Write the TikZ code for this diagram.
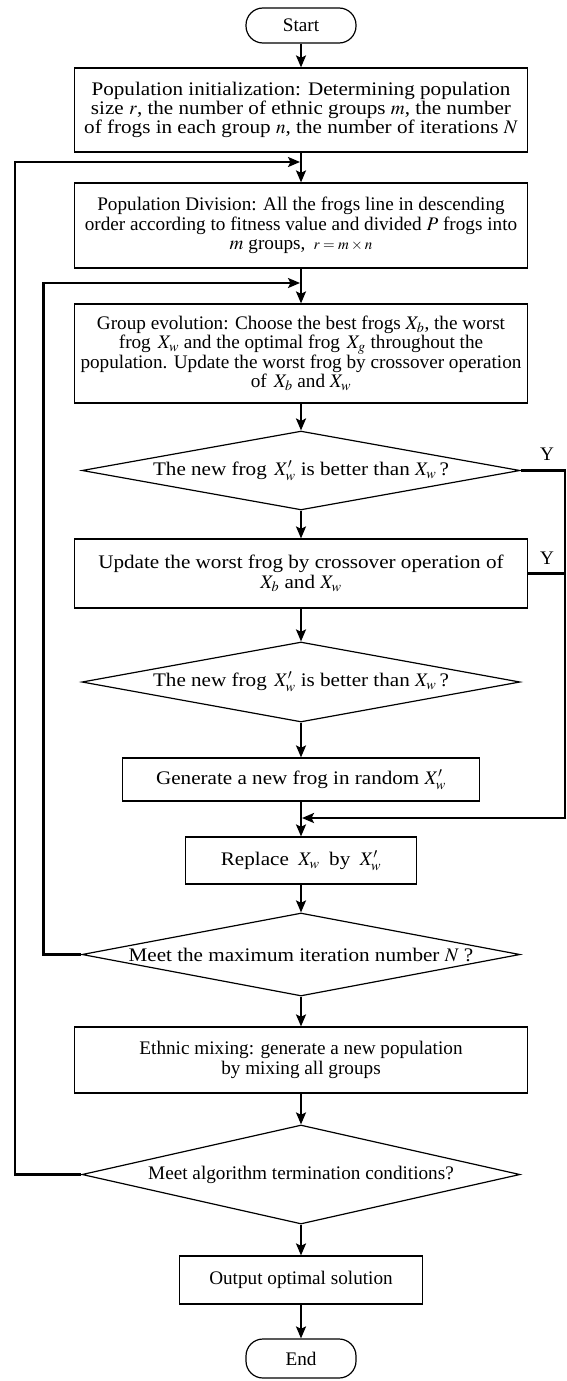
\documentclass[tikz,border=0pt]{standalone}
\usepackage{mathptmx}
\usepackage[no-math]{fontspec}
\setmainfont{Liberation Serif}
\newfontfamily\widefont{Liberation Serif}[FakeStretch=1.1]
\usetikzlibrary{arrows.meta,shapes.geometric}
\begin{document}
\begin{tikzpicture}[x=1pt,y=1pt,
  every node/.style={font=\fontsize{19.2}{19.3}\selectfont},
  wide/.style={font=\fontsize{19.2}{19.3}\selectfont\widefont},
  box/.style={draw,line width=1.2pt,rectangle,inner sep=0pt,align=center,minimum width=453pt},
  term/.style={draw,line width=1.2pt,rounded corners=17pt,minimum width=110pt,inner sep=0pt},
  dec/.style={draw,line width=1.2pt,diamond,aspect=5,inner sep=0pt,minimum width=438pt},
  arr/.style={line width=2.2pt,-{Stealth[length=12pt,width=10pt,inset=2.5pt]}},
  conn/.style={line width=2.2pt}
]
\useasboundingbox (0,0) rectangle (567,-1381);
\node[term,minimum height=35pt] (start) at (301,-25.5) {Start};
\node[box,wide,minimum height=84pt] (b1) at (301,-110) {Population initialization: Determining population\\ size $r$, the number of ethnic groups $m$, the number\\ of frogs in each group $n$, the number of iterations $N$};
\node[box,minimum height=85pt] (b2) at (301,-225.5) {Population Division: All the frogs line in descending\\ order according to fitness value and divided $P$ frogs into\\ $m$ groups, {\fontsize{15}{15}\selectfont$\;r = m \times n$}};
\node[box,minimum height=99pt] (b3) at (301,-353.5) {Group evolution: Choose the best frogs $X_b$, the worst\\ frog $\,X_w$ and the optimal frog $\,X_g$ throughout the\\ population. Update the worst frog by crossover operation\\ of $\,X_b$ and $X_w$};
\node[dec,wide,minimum height=75pt] (d1) at (301,-470.5) {The new frog $\,X'_w$ is better than $X_w$\,?};
\node[box,wide,minimum height=69pt] (b4) at (301,-573.5) {Update the worst frog by crossover operation of\\ $X_b$ and $X_w$};
\node[dec,wide,minimum height=80pt] (d2) at (301,-682) {The new frog $\,X'_w$ is better than $X_w$\,?};
\node[box,wide,minimum width=357pt,minimum height=43pt] (b5) at (301,-779.5) {Generate a new frog in random $X'_w$};
\node[box,wide,minimum width=231pt,minimum height=47pt] (b6) at (301,-860.5) {Replace $\;X_w\;$ by $\;X'_w$};
\node[dec,wide,minimum height=83pt] (d3) at (301,-954.5) {Meet the maximum iteration number $N$ ?};
\node[box,minimum height=66pt] (b7) at (301,-1060) {Ethnic mixing: generate a new population\\ by mixing all groups};
\node[dec,minimum height=99pt] (d4) at (301,-1174.5) {Meet algorithm termination conditions?};
\node[box,minimum width=243pt,minimum height=48pt] (b8) at (301,-1280) {Output optimal solution};
\node[term,minimum height=39pt] (end) at (301,-1358.5) {End};
\node (y1) at (547,-454) {Y};
\node (y2) at (547,-558) {Y};
\coordinate (xo) at (15,0);
\coordinate (xi) at (43.5,0);
\coordinate (xr) at (565,0);
\coordinate (j1) at (300,-162);
\coordinate (j2) at (300,-283);
\coordinate (j3) at (302,-818);
\draw[arr] (start) -- (b1);
\draw[arr] (b1) -- (b2);
\draw[arr] (b2) -- (b3);
\draw[arr] (b3) -- (d1);
\draw[arr] (d1) -- (b4);
\draw[arr] (b4) -- (d2);
\draw[arr] (d2) -- (b5);
\draw[arr] (b5) -- (b6);
\draw[arr] (b6) -- (d3);
\draw[arr] (d3) -- (b7);
\draw[arr] (b7) -- (d4);
\draw[arr] (d4) -- (b8);
\draw[arr] (b8) -- (end);
\draw[arr] (d4.west) -- (d4.west -| xo) -- (j1 -| xo) -- (j1);
\draw[arr] (d3.west) -- (d3.west -| xi) -- (j2 -| xi) -- (j2);
\draw[arr] (d1.east) -- (d1.east -| xr) -- (j3 -| xr) -- (j3);
\draw[conn] (b4.east) -- (b4.east -| xr);
\end{tikzpicture}
\end{document}
